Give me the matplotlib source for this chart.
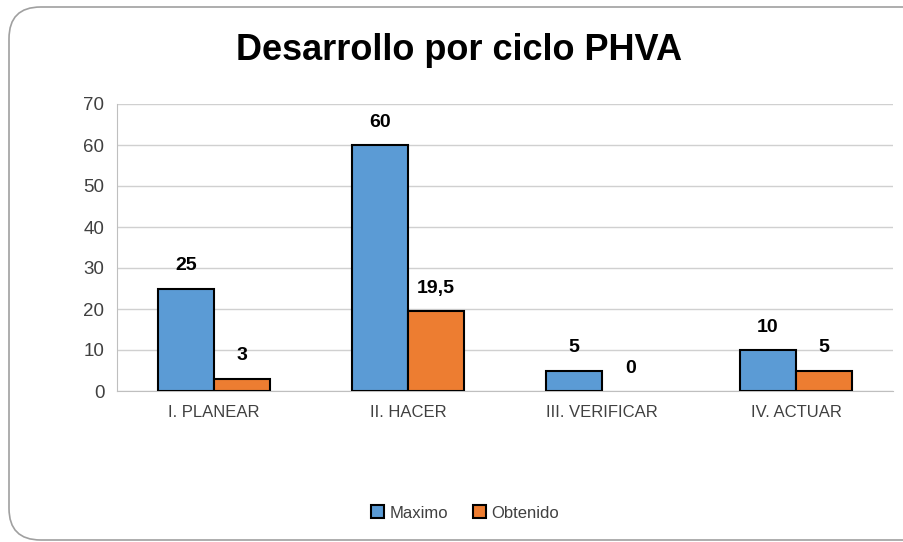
import matplotlib
matplotlib.use("Agg")
import matplotlib.pyplot as plt
from matplotlib.patches import FancyBboxPatch
import numpy as np

categories = ["I. PLANEAR", "II. HACER", "III. VERIFICAR", "IV. ACTUAR"]
maximo = [25, 60, 5, 10]
obtenido = [3, 19.5, 0, 5]
max_labels = ["25", "60", "5", "10"]
obt_labels = ["3", "19,5", "0", "5"]
yticks = [0, 10, 20, 30, 40, 50, 60, 70]

plt.rcParams['font.family'] = ['Liberation Sans', 'DejaVu Sans']

fig = plt.figure(figsize=(9.04, 5.42), dpi=100)
fig.patch.set_facecolor('white')

# rounded frame
W, H = 904, 542
frame = FancyBboxPatch((9 / W, 2 / H), (W + 30) / W, (H - 9) / H,
                       boxstyle="round,pad=0,rounding_size=0.035",
                       transform=fig.transFigure, fill=False,
                       edgecolor='#a0a0a0', linewidth=1.2, mutation_aspect=W / H)
fig.add_artist(frame)

ax = fig.add_axes([117 / W, 1 - 391 / H, (893 - 117) / W, (391 - 104) / H])
x = np.arange(len(categories))
bw = 0.29
b1 = ax.bar(x - bw / 2, maximo, bw, color='#5b9bd5', edgecolor='black', linewidth=1.5, label='Maximo', zorder=3)
b2 = ax.bar(x + bw / 2, obtenido, bw, color='#ed7d31', edgecolor='black', linewidth=1.5, label='Obtenido', zorder=3)
for r, v in zip(b2, obtenido):
    if v == 0:
        r.set_linewidth(0)

for xi, v, t in zip(x - bw / 2, maximo, max_labels):
    ax.annotate(t, (xi, v), xytext=(0, 16.5), textcoords='offset points',
                ha='center', va='center', fontsize=14, fontweight='bold', color='black')
for xi, v, t in zip(x + bw / 2, obtenido, obt_labels):
    ax.annotate(t, (xi, v), xytext=(0, 16.5), textcoords='offset points',
                ha='center', va='center', fontsize=14, fontweight='bold', color='black')

ax.set_xlim(-0.5, len(categories) - 0.5)
ax.set_ylim(0, 70)
ax.set_yticks(yticks)
ax.set_yticklabels([str(v) for v in yticks], fontsize=13.5, color='#404040')
ax.set_xticks(x)
ax.set_xticklabels(categories, fontsize=12, color='#404040')
ax.tick_params(axis='y', length=0, pad=9)
ax.tick_params(axis='x', length=0, pad=10)
ax.yaxis.grid(True, color='#d0d0d0', linewidth=1.0, zorder=0)
ax.set_axisbelow(True)
for s in ['top', 'right']:
    ax.spines[s].set_visible(False)
ax.spines['left'].set_color('#bfbfbf')
ax.spines['bottom'].set_color('#bfbfbf')

fig.text(459 / W, 1 - 51 / H, "Desarrollo por ciclo PHVA", ha='center', va='center',
         fontsize=26, fontweight='bold', color='black')

leg = fig.legend(handles=[b1, b2], labels=['Maximo', 'Obtenido'], loc='center',
                 bbox_to_anchor=(465 / W, 1 - 513 / H), ncol=2, frameon=False,
                 handlelength=0.8, handleheight=0.8, handletextpad=0.3, columnspacing=1.5,
                 prop={'size': 12})
for t in leg.get_texts():
    t.set_color('#404040')

fig.savefig('out.png', dpi=100, facecolor='white')
